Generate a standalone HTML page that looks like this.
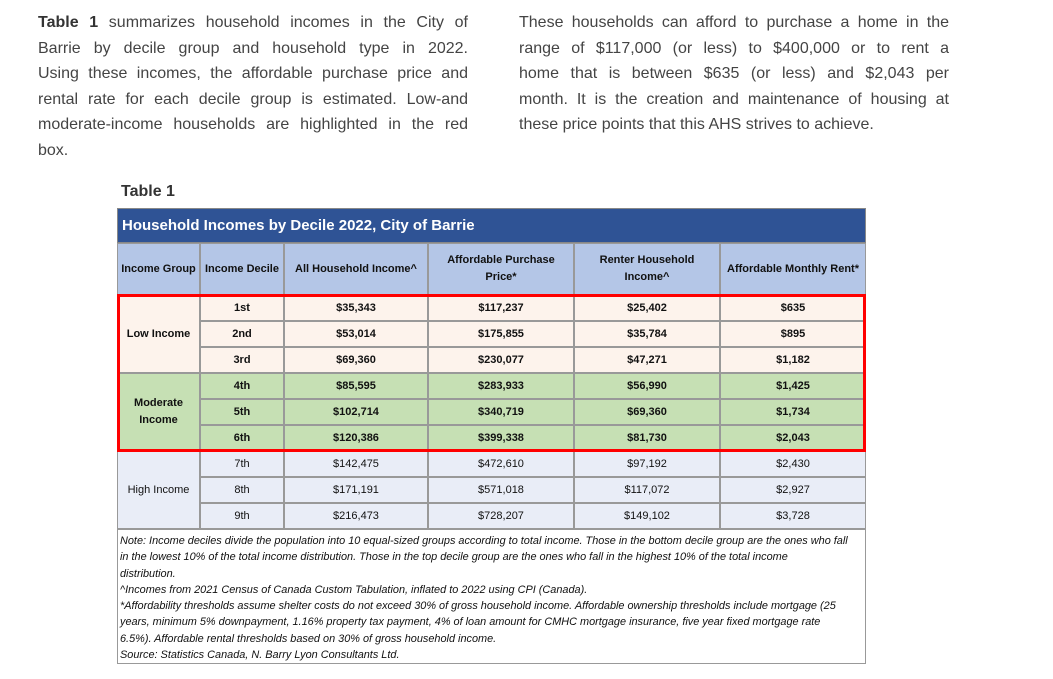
<!DOCTYPE html><html><head><style>
body{margin:0;width:1053px;height:679px;background:#fff;position:relative;font-family:"Liberation Sans",sans-serif;overflow:hidden}
.p{position:absolute;top:10px;font-size:16px;line-height:25.5px;color:#444}
.p div{text-align:justify;text-align-last:justify;white-space:nowrap}
.p div.l{text-align-last:left}
.c{position:absolute;box-sizing:border-box;border:1px solid #999;display:flex;align-items:center;justify-content:center;text-align:center;font-size:11px;line-height:17px;color:#111}
.b{font-weight:bold}
.n div{white-space:nowrap}
</style></head><body>
<div class="p" style="left:38px;width:430px"><div><b style="color:#333">Table 1</b> summarizes household incomes in the City of</div><div>Barrie by decile group and household type in 2022.</div><div>Using these incomes, the affordable purchase price and</div><div>rental rate for each decile group is estimated. Low-and</div><div>moderate-income households are highlighted in the red</div><div class="l">box.</div></div>
<div class="p" style="left:519px;width:430px"><div>These households can afford to purchase a home in the</div><div>range of $117,000 (or less) to $400,000 or to rent a</div><div>home that is between $635 (or less) and $2,043 per</div><div>month. It is the creation and maintenance of housing at</div><div class="l">these price points that this AHS strives to achieve.</div></div>
<div style="position:absolute;left:121px;top:183px;font-size:16px;font-weight:bold;color:#333">Table 1</div>
<div style="position:absolute;left:117px;top:208px;width:749px;height:35px;background:#2F5395;border:1px solid #888;box-sizing:border-box;color:#fff;font-weight:bold;font-size:15px;line-height:33px;padding-left:4px">Household Incomes by Decile 2022, City of Barrie</div>
<div id="t"></div>
<div class="n" style="position:absolute;left:117px;top:529px;width:749px;height:135px;border:1px solid #999;box-sizing:border-box;font-size:10.9px;font-style:italic;line-height:16.3px;padding:3px 2px;color:#111"><div>Note: Income deciles divide the population into 10 equal-sized groups according to total income. Those in the bottom decile group are the ones who fall</div><div>in the lowest 10% of the total income distribution. Those in the top decile group are the ones who fall in the highest 10% of the total income</div><div>distribution.</div><div>^Incomes from 2021 Census of Canada Custom Tabulation, inflated to 2022 using CPI (Canada).</div><div>*Affordability thresholds assume shelter costs do not exceed 30% of gross household income. Affordable ownership thresholds include mortgage (25</div><div>years, minimum 5% downpayment, 1.16% property tax payment, 4% of loan amount for CMHC mortgage insurance, five year fixed mortgage rate</div><div>6.5%). Affordable rental thresholds based on 30% of gross household income.</div><div>Source: Statistics Canada, N. Barry Lyon Consultants Ltd.</div></div>
<div style="position:absolute;left:117px;top:294px;width:749px;height:158px;border:3px solid #f00;box-sizing:border-box"></div>
<script>
var X=[117,200,284,428,574,720,866];
var h=["Income Group","Income Decile","All Household Income^","Affordable Purchase<br>Price*","Renter Household<br>Income^","Affordable Monthly Rent*"];
var d=[["1st","$35,343","$117,237","$25,402","$635"],["2nd","$53,014","$175,855","$35,784","$895"],["3rd","$69,360","$230,077","$47,271","$1,182"],["4th","$85,595","$283,933","$56,990","$1,425"],["5th","$102,714","$340,719","$69,360","$1,734"],["6th","$120,386","$399,338","$81,730","$2,043"],["7th","$142,475","$472,610","$97,192","$2,430"],["8th","$171,191","$571,018","$117,072","$2,927"],["9th","$216,473","$728,207","$149,102","$3,728"]];
var s="";
function c(x,y,w,hh,bg,t,cls){s+='<div class="c '+(cls||'')+'" style="left:'+x+'px;top:'+y+'px;width:'+w+'px;height:'+hh+'px;background:'+bg+'">'+t+'</div>';}
for(var i=0;i<6;i++)c(X[i],243,X[i+1]-X[i],52,"#B4C6E7",h[i],"b");
var bgs=["#FDF3EC","#C6E0B4","#E9EDF7"],g=["Low Income","Moderate<br>Income","High Income"];
for(var k=0;k<3;k++)c(117,295+k*78,83,78,bgs[k],g[k],k<2?"b":"");
for(var r=0;r<9;r++){var y=295+r*26,bg=bgs[Math.floor(r/3)];for(var j=0;j<5;j++)c(X[j+1],y,X[j+2]-X[j+1],26,bg,d[r][j],r<6?"b":"");}
document.getElementById("t").outerHTML=s;
</script>
</body></html>
